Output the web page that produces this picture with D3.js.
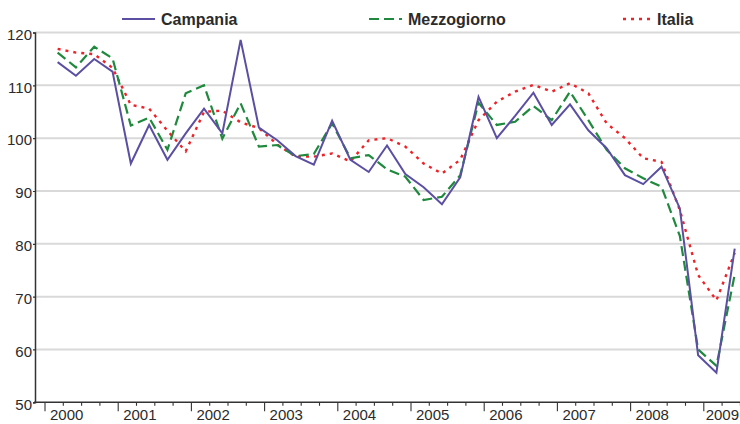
<!DOCTYPE html>
<html>
<head>
<meta charset="utf-8">
<title>Campania, Mezzogiorno, Italia</title>
<script src="https://cdnjs.cloudflare.com/ajax/libs/d3/7.8.5/d3.min.js"></script>
<style>
    body {
        margin:0;
        background:white;
    }
    text {
        font-family:"Liberation Sans", Arial, sans-serif;
        fill:#2b2b2b;
    }
</style>
</head>
<body>
<div id="chart"></div>
<script>
    // quarterly index, 2000 Q1 - 2009 Q2
    var years = ['2000','2001','2002','2003','2004','2005','2006','2007','2008','2009'];
    var quarters = [];
    years.forEach(function(y) {
        ['T1','T2','T3','T4'].forEach(function(q) { quarters.push(y + q); });
    });
    quarters = quarters.slice(0, 38);

    var campania = [
        114.4, 111.8, 115.0, 112.6,
        95.2, 102.5, 95.9, 100.9,
        105.6, 100.9, 118.6, 102.0,
        99.6, 96.6, 95.0, 103.3,
        95.9, 93.6, 98.6, 93.2,
        90.7, 87.5, 92.6, 107.8,
        100.0, 104.2, 108.6, 102.5,
        106.4, 101.5, 98.1, 93.0,
        91.3, 94.6, 86.7, 58.9,
        55.6, 79.1
    ];
    var mezzogiorno = [
        116.2, 113.4, 117.3, 115.1,
        102.4, 103.9, 97.8, 108.5,
        110.0, 99.9, 106.6, 98.4,
        98.7, 96.6, 97.0, 102.8,
        96.2, 96.8, 94.1, 92.7,
        88.3, 88.9, 93.0, 106.7,
        102.5, 103.1, 106.1, 103.4,
        108.8, 103.4, 97.8, 94.3,
        92.4, 90.8, 81.5, 60.0,
        56.9, 74.2
    ];
    var italia = [
        116.9, 116.2, 115.9, 113.3,
        106.3, 105.6, 101.4, 97.5,
        105.0, 105.2, 103.0, 101.9,
        98.8, 96.5, 96.5, 97.1,
        95.6, 99.6, 100.0, 98.4,
        95.2, 93.3, 95.9, 103.4,
        106.9, 108.8, 110.1, 108.8,
        110.4, 108.5, 102.8, 100.0,
        96.2, 95.5, 86.4, 74.1,
        69.3, 78.3
    ];
    var yTicks = [50, 60, 70, 80, 90, 100, 110, 120];

    var series = [
        {name:'Campania', values:campania, color:'#5a4fa2', width:2, dash:null, lx:122, lw:33},
        {name:'Mezzogiorno', values:mezzogiorno, color:'#1f8a3d', width:2.2, dash:'10,5', lx:369, lw:33},
        {name:'Italia', values:italia, color:'#ec2329', width:2.4, dash:'3,5', lx:623, lw:28}
    ];

    var W = 740, H = 424;
    var svg = d3.select('#chart').append('svg')
        .attr('width', W)
        .attr('height', H);

    // x in quarters counted from the start of 2000
    var x = d3.scaleLinear().domain([0, 38]).range([45, 45 + 38 * 18.3]);
    var y = d3.scaleLinear().domain([50, 120]).range([402.3, 32.5]);
    var plotLeft = 35, plotRight = W;
    var offset = 0.69; // points sit inside each quarter

    // gridlines
    svg.append('g').selectAll('line')
        .data(yTicks.filter(function(d) { return d > 50; }))
        .enter().append('line')
        .attr('x1', plotLeft).attr('x2', plotRight)
        .attr('y1', function(d) { return y(d); })
        .attr('y2', function(d) { return y(d); })
        .attr('stroke', '#d9d9d9')
        .attr('stroke-width', 2);

    // y axis
    var yAxis = svg.append('g')
        .attr('transform', 'translate(' + plotLeft + ',0)')
        .call(d3.axisLeft(y).tickValues(yTicks).tickSize(2).tickPadding(1));
    yAxis.select('.domain').attr('stroke', '#333').attr('stroke-width', 1.5);
    yAxis.selectAll('.tick line').attr('stroke', '#333').attr('stroke-width', 1.2);
    yAxis.selectAll('.tick text')
        .attr('font-size', 15)
        .attr('dy', '0.45em')
        .style('font-family', '"Liberation Sans", Arial, sans-serif')
        .attr('fill', '#2b2b2b');

    // x axis with quarter ticks
    var xAxisG = svg.append('g');
    xAxisG.append('line')
        .attr('x1', plotLeft - 1).attr('x2', plotRight)
        .attr('y1', y(50)).attr('y2', y(50))
        .attr('stroke', '#333').attr('stroke-width', 1.5);
    xAxisG.selectAll('line.minor')
        .data(d3.range(0, 39))
        .enter().append('line')
        .attr('class', 'minor')
        .attr('x1', function(d) { return x(d); })
        .attr('x2', function(d) { return x(d); })
        .attr('y1', y(50))
        .attr('y2', function(d) { return d % 4 === 0 ? y(50) + 9 : y(50) + 3.5; })
        .attr('stroke', '#333')
        .attr('stroke-width', 1.1);
    xAxisG.selectAll('text')
        .data(years)
        .enter().append('text')
        .attr('x', function(d, i) { return x(i * 4) + 5; })
        .attr('y', 420)
        .attr('font-size', 15)
        .text(function(d) { return d; })
        .each(function() {
            // keep the last label inside the picture
            var b = this.getBBox();
            if (b.x + b.width > W - 1) {
                d3.select(this).attr('x', W - 1).attr('text-anchor', 'end');
            }
        });

    // lines
    var line = d3.line()
        .x(function(d, i) { return x(i + offset); })
        .y(function(d) { return y(d); });

    series.slice().reverse().forEach(function(s) {
        svg.append('path')
            .datum(s.values)
            .attr('d', line)
            .attr('fill', 'none')
            .attr('stroke', s.color)
            .attr('stroke-width', s.width)
            .attr('stroke-dasharray', s.dash)
            .attr('stroke-linejoin', 'miter');
    });

    // legend
    var legend = svg.append('g');
    series.forEach(function(s) {
        legend.append('line')
            .attr('x1', s.lx).attr('x2', s.lx + s.lw)
            .attr('y1', 19).attr('y2', 19)
            .attr('stroke', s.color)
            .attr('stroke-width', s.width)
            .attr('stroke-dasharray', s.dash);
        legend.append('text')
            .attr('x', s.lx + s.lw + 6)
            .attr('y', 25)
            .attr('font-size', 16)
            .attr('font-weight', 'bold')
            .text(s.name);
    });
</script>
</body>
</html>
